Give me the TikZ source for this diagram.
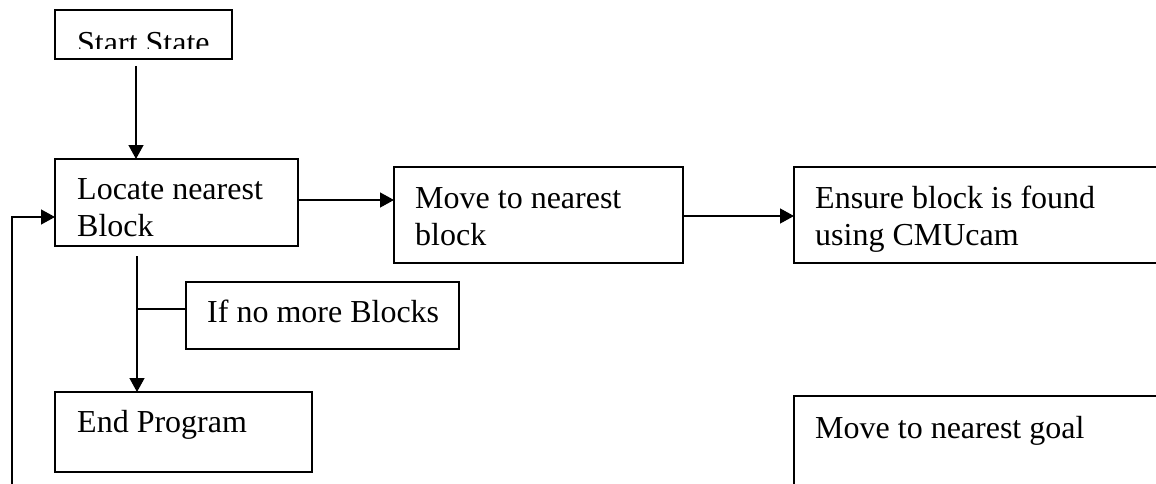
\documentclass[tikz,border=0pt]{standalone}
\usepackage{fontspec}
\setmainfont{Liberation Serif}
\usetikzlibrary{arrows.meta}
\begin{document}
\begin{tikzpicture}[x=1pt,y=-1pt,
  box/.style={draw, line width=1.5pt, rectangle, inner sep=0pt, outer sep=0pt, anchor=north west},
  txt/.style={anchor=base west, inner sep=0pt, font=\fontsize{32}{37}\selectfont},
  conn/.style={line width=1.3pt},
  arr/.style={conn, -{Triangle[length=14pt,width=15pt]}}]
\clip (0,0) rectangle (1156,484);
% boxes
\node[box, minimum width=177pt, minimum height=49pt] (start) at (55,10) {};
\node[box, minimum width=243pt, minimum height=87pt] (locate) at (55,159) {};
\node[box, minimum width=289pt, minimum height=96pt] (move) at (394,167) {};
\node[box, minimum width=400pt, minimum height=96pt] (ensure) at (794,167) {};
\node[box, minimum width=273pt, minimum height=67pt] (ifno) at (186,282) {};
\node[box, minimum width=257pt, minimum height=80pt] (endp) at (55,392) {};
\node[box, minimum width=400pt, minimum height=120pt] (goal) at (794,396) {};
% texts
\begin{scope}
  \clip (55,10) rectangle (232,49);
  \node[txt] (startT) at (77,53.7) {Start State};
\end{scope}
\node[txt] (locT1) at (77,199) {Locate nearest};
\node[txt] (locT2) at (77,236) {Block};
\node[txt] (movT1) at (415,208) {Move to nearest};
\node[txt] (movT2) at (415,245) {block};
\node[txt] (ensT1) at (815,208) {Ensure block is found};
\node[txt] (ensT2) at (815,245) {using CMUcam};
\node[txt] (ifT) at (207,322.7) {If no more Blocks};
\node[txt] (endT) at (77,432.7) {End Program};
\node[txt] (goalT) at (815,438) {Move to nearest goal};
% connectors
\coordinate (a1) at (136,66);
\draw[arr] (a1) -- (a1 |- locate.north);
\draw[arr] (locate.east |- 0,200) -- (move.west |- 0,200);
\draw[arr] (move.east |- 0,216) -- (ensure.west |- 0,216);
\coordinate (d1) at (137,256);
\draw[arr] (d1) -- (d1 |- endp.north);
\coordinate (br) at (137,309);
\draw[conn] (br) -- (ifno.west |- br);
\coordinate (fb) at (12,490);
\draw[arr] (fb) |- (locate.west |- 0,217);
\end{tikzpicture}
\end{document}
